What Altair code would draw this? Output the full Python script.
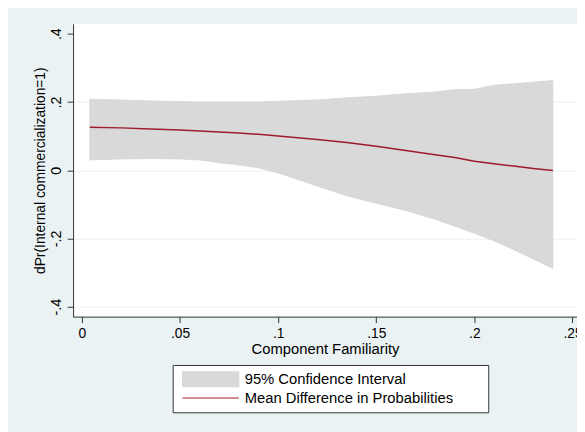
import altair as alt
import pandas as pd

# ---- data ----
familiarity = [0.004, 0.02, 0.035, 0.05, 0.06, 0.07, 0.08, 0.09, 0.10, 0.11, 0.12,
               0.135, 0.15, 0.165, 0.18, 0.19, 0.20, 0.21, 0.22, 0.23, 0.24]
ci_upper = [0.208, 0.206, 0.203, 0.201, 0.200, 0.200, 0.200, 0.200, 0.202, 0.204, 0.206,
            0.212, 0.217, 0.224, 0.229, 0.236, 0.237, 0.249, 0.253, 0.258, 0.263]
ci_lower = [0.030, 0.033, 0.034, 0.033, 0.030, 0.022, 0.015, 0.007, -0.008, -0.027, -0.047,
            -0.075, -0.097, -0.118, -0.144, -0.164, -0.185, -0.207, -0.233, -0.260, -0.288]
mean_diff = [0.126, 0.124, 0.121, 0.118, 0.115, 0.112, 0.109, 0.105, 0.100, 0.095, 0.090,
             0.081, 0.070, 0.058, 0.045, 0.037, 0.026, 0.019, 0.012, 0.005, -0.001]

x_ticks = [0, 0.05, 0.1, 0.15, 0.2, 0.25]
x_tick_labels = ["0", ".05", ".1", ".15", ".2", ".25"]
y_ticks = [-0.4, -0.2, 0, 0.2, 0.4]
y_tick_labels = ["-.4", "-.2", "0", ".2", ".4"]

ci_label = "95% Confidence Interval"
mean_label = "Mean Difference in Probabilities"
x_title = "Component Familiarity"
y_title = "dPr(Internal commercialization=1)"

FONT = "Liberation Sans, Arial, Helvetica, sans-serif"
BAND = "#D9D9D9"
RED = "#9E1B2C"
BG = "#EAF2F3"

df = pd.DataFrame({"x": familiarity, "lo": ci_lower, "hi": ci_upper, "mean": mean_diff})


def label_expr(vals, labs):
    v = "[" + ",".join(repr(float(a)) for a in vals) + "]"
    l = "[" + ",".join("'" + s + "'" for s in labs) + "]"
    return f"{l}[indexof({v}, datum.value)]"


xscale = alt.Scale(domain=[-0.00452, 0.2523], nice=False, zero=False)
yscale = alt.Scale(domain=[-0.429, 0.429], nice=False, zero=False)

xaxis = alt.Axis(values=x_ticks, labelExpr=label_expr(x_ticks, x_tick_labels),
                 grid=False, tickSize=6, labelPadding=4, titlePadding=1,
                 labelFontSize=14, titleFontSize=15, title=x_title)
yaxis = alt.Axis(values=y_ticks, labelExpr=label_expr(y_ticks, y_tick_labels),
                 grid=True, gridColor=alt.condition("datum.value > 0.3", alt.value("white"), alt.value(BG)),
                 tickSize=6, labelPadding=4, labelAngle=270, labelAlign="center",
                 labelBaseline="bottom", titlePadding=1,
                 labelFontSize=14.5, titleFontSize=14, title=y_title)

series_domain = [ci_label, mean_label]
fill_scale = alt.Scale(domain=series_domain, range=[BAND, RED])
stroke_scale = alt.Scale(domain=series_domain, range=[BAND, RED])
# symbol size 225 -> path unit = 7.5 px: swatch 57 x 15 px, line 57 px long;
# the trailing move-to only widens the legend box, it draws nothing
shape_scale = alt.Scale(domain=series_domain,
                        range=["M-0.6,-1H7V1H-0.6ZM39.6,0", "M-0.6,0H7M39.6,0"])

legend = alt.Legend(
    title=None, orient="none", legendX=101, legendY=346, direction="vertical",
    fillColor="white", strokeColor="#333333", padding=6,
    labelFont=FONT, labelFontSize=15, labelColor="black", labelOffset=50, labelLimit=0,
    symbolSize=225, symbolStrokeWidth=1.2, symbolOpacity=1, rowPadding=0,
)

band = alt.Chart(df).transform_calculate(series=f"'{ci_label}'").mark_area(
    opacity=1, stroke="#D2D2D2", strokeWidth=0.7
).encode(
    x=alt.X("x:Q", scale=xscale, axis=xaxis),
    y=alt.Y("lo:Q", scale=yscale, axis=yaxis),
    y2="hi:Q",
    fill=alt.Fill("series:N", scale=fill_scale, legend=legend),
)

line = alt.Chart(df).transform_calculate(series=f"'{mean_label}'").mark_line(
    strokeWidth=1.5
).encode(
    x=alt.X("x:Q", scale=xscale),
    y=alt.Y("mean:Q", scale=yscale),
    stroke=alt.Stroke("series:N", scale=stroke_scale, legend=legend),
)

# empty point layer only used to give the legend its symbol shapes
shapes = alt.Chart(df).transform_filter("false").transform_calculate(
    series=f"'{mean_label}'"
).mark_point(filled=True).encode(
    x=alt.X("x:Q", scale=xscale),
    y=alt.Y("mean:Q", scale=yscale),
    shape=alt.Shape("series:N", scale=shape_scale, legend=legend),
)

chart = alt.layer(band, line, shapes).properties(
    width=511, height=297,
    autosize=alt.AutoSizeParams(type="none"),
    padding={"left": 66, "top": 13, "right": 0, "bottom": 114},
    background=BG,
).configure_view(
    fill="white", stroke=None
).configure_axis(
    domainColor="#333333", tickColor="#333333", labelColor="black", titleColor="black",
    labelFont=FONT, titleFont=FONT, titleFontWeight="normal", domainWidth=1, tickWidth=1,
)

chart.save("out.html", embed_options={"renderer": "svg", "actions": False})
